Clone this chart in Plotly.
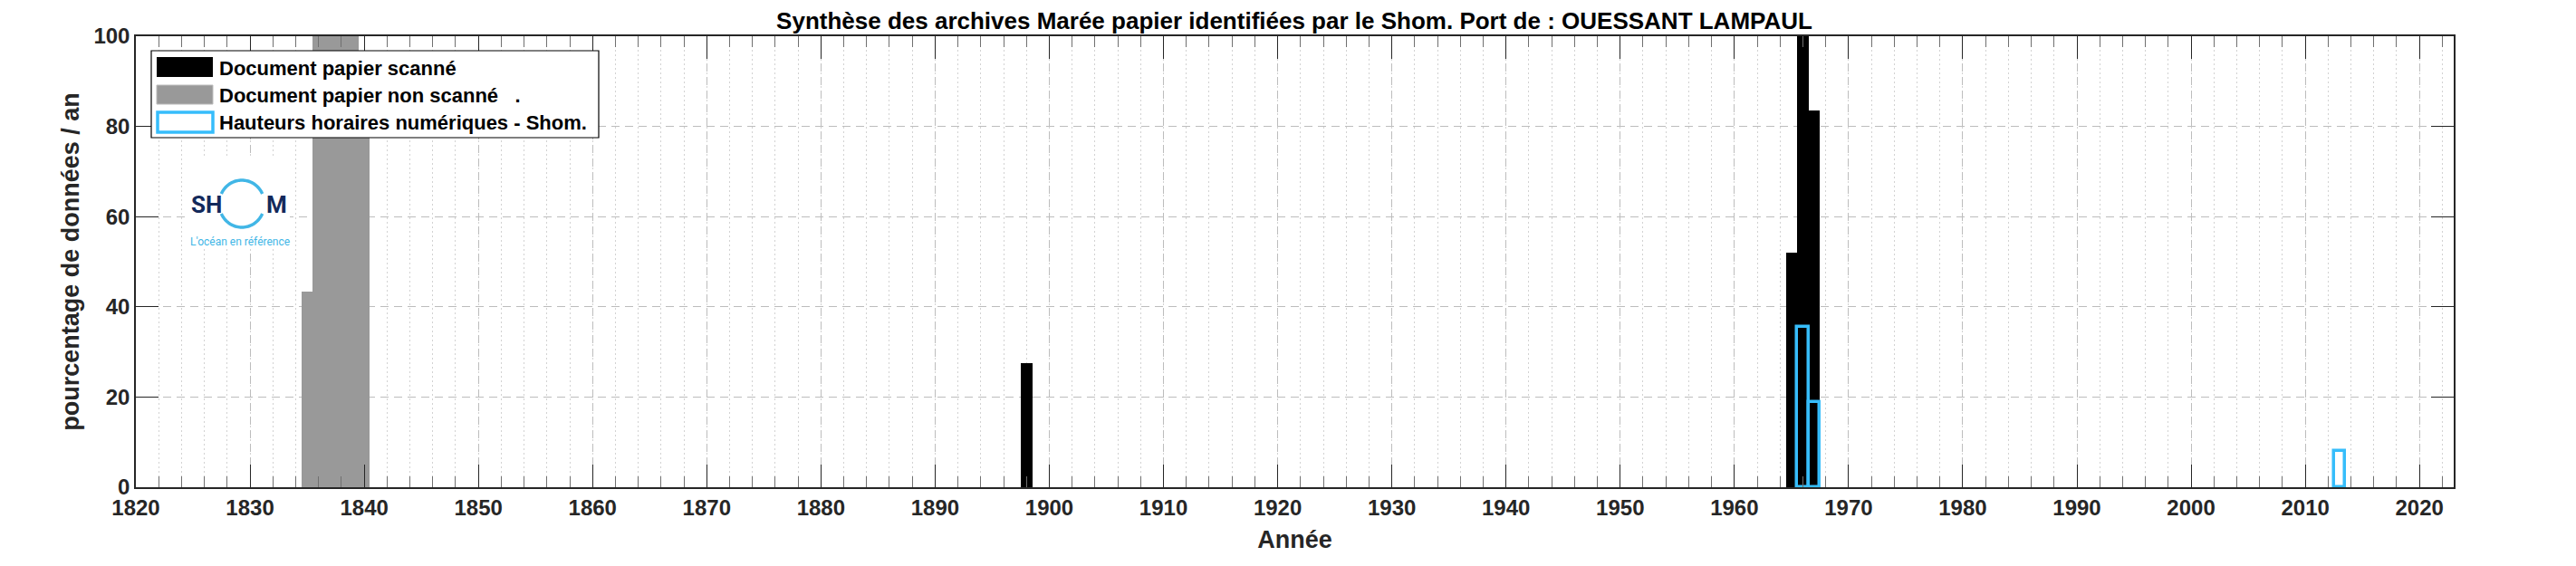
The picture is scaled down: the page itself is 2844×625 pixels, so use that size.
import math
import plotly.graph_objects as go

# ---------------- data ----------------
years_scanned = [1898, 1965, 1966, 1967]
pct_scanned = [27.6, 52.1, 100, 83.5]

years_unscanned = [1835, 1836, 1837, 1838, 1839, 1840]
pct_unscanned = [43.4, 100, 100, 100, 100, 88]

years_numeric = [1966, 1967, 2013]
pct_numeric = [35.5, 18.9, 8]

x_tick_vals = list(range(1820, 2021, 10))
y_tick_vals = [0, 20, 40, 60, 80, 100]

legend_labels = ["Document papier scanné",
                 "Document papier non scanné   .",
                 "Hauteurs horaires numériques - Shom."]

title_text = "Synthèse des archives Marée papier identifiées par le Shom. Port de : OUESSANT LAMPAUL"

# ---------------- geometry helpers ----------------
W, H = 2844, 625
L, R, T, B = 142, 2701, 32, 530


def px(xp):
    return (xp - L) / (R - L)


def py(yp):
    return (B - yp) / (B - T)


BLACK = "#000000"
GREY = "#999999"
BLUE = "#36BDFB"
AXC = "#262626"
FONT = "Liberation Sans, Arial, sans-serif"

fig = go.Figure()
fig.add_trace(go.Bar(x=years_unscanned, y=pct_unscanned, width=1,
                     marker=dict(color=GREY, line=dict(width=0)),
                     name=legend_labels[1], showlegend=False))
fig.add_trace(go.Bar(x=years_scanned, y=pct_scanned, width=1,
                     marker=dict(color=BLACK, line=dict(width=0)),
                     name=legend_labels[0], showlegend=False))
fig.add_trace(go.Bar(x=years_numeric, y=pct_numeric, width=1,
                     marker=dict(color="rgba(0,0,0,0)", line=dict(color=BLUE, width=3.5)),
                     name=legend_labels[2], showlegend=False))

shapes = []
annotations = []

# ---- legend (drawn manually to mimic wide swatches) ----
shapes.append(dict(type="rect", xref="paper", yref="paper", layer="above",
                   x0=px(159), x1=px(653), y0=py(144), y1=py(48),
                   line=dict(color="#000000", width=1.2), fillcolor="white"))
shapes.append(dict(type="rect", xref="paper", yref="paper", layer="above",
                   x0=px(165), x1=px(227), y0=py(77), y1=py(55),
                   line=dict(width=0), fillcolor=BLACK))
shapes.append(dict(type="rect", xref="paper", yref="paper", layer="above",
                   x0=px(165), x1=px(227), y0=py(107), y1=py(86),
                   line=dict(color="#BBBBBB", width=1), fillcolor=GREY))
shapes.append(dict(type="rect", xref="paper", yref="paper", layer="above",
                   x0=px(166), x1=px(227), y0=py(138), y1=py(116),
                   line=dict(color=BLUE, width=3.5), fillcolor="white"))
for lab, yc in zip(legend_labels, [67, 98, 128]):
    annotations.append(dict(text=lab, xref="paper", yref="paper", x=px(232), y=py(yc),
                            xanchor="left", yanchor="middle", showarrow=False,
                            font=dict(family=FONT, size=22, color="#000000", weight="bold")))

# ---- SHOM logo ----
shapes.append(dict(type="rect", xref="paper", yref="paper", layer="above",
                   x0=px(200), x1=px(312), y0=py(267), y1=py(167),
                   line=dict(width=0), fillcolor="white"))
cx, cy, rx, ry = 259, 217, 25, 26
LOGO_BLUE = "#41B6E6"
for a0, a1, sgn in [(25, 155, -1), (25, 155, 1)]:
    pts = []
    for i in range(41):
        a = math.radians(a0 + (a1 - a0) * i / 40)
        xx = cx + rx * math.cos(a)
        yy = cy + sgn * ry * math.sin(a)
        pts.append((px(xx), py(yy)))
    path = "M" + " L".join(f"{p[0]:.6f},{p[1]:.6f}" for p in pts)
    shapes.append(dict(type="path", xref="paper", yref="paper", layer="above",
                       path=path, line=dict(color=LOGO_BLUE, width=3.5)))
annotations.append(dict(text="SH", xref="paper", yref="paper", x=px(220), y=py(218),
                        xanchor="center", yanchor="middle", showarrow=False,
                        font=dict(family="Liberation Sans Narrow, Roboto, sans-serif", size=26,
                                  color="#13295B", weight="bold")))
annotations.append(dict(text="M", xref="paper", yref="paper", x=px(297), y=py(218),
                        xanchor="center", yanchor="middle", showarrow=False,
                        font=dict(family="Liberation Sans Narrow, Roboto, sans-serif", size=26,
                                  color="#13295B", weight="bold")))
annotations.append(dict(text="L'océan en référence", xref="paper", yref="paper", x=px(257), y=py(259),
                        xanchor="center", yanchor="middle", showarrow=False,
                        font=dict(family="Liberation Sans Narrow, Roboto, sans-serif", size=12,
                                  color=LOGO_BLUE)))

tickfont = dict(family=FONT, size=24, color=AXC, weight="bold")
titlefont = dict(family=FONT, size=27, color=AXC, weight="bold")

fig.update_layout(
    width=W, height=H,
    margin=dict(l=L, r=W - R, t=T, b=H - B, pad=0),
    paper_bgcolor="white", plot_bgcolor="white",
    barmode="overlay", bargap=0, showlegend=False,
    title=dict(text=title_text, x=px(1421), xref="paper", xanchor="center",
               y=1 - 15 / H, yref="container", yanchor="middle",
               font=dict(family=FONT, size=26, color="#000000", weight="bold")),
    xaxis=dict(range=[1820, 2023], tickmode="array", tickvals=x_tick_vals,
               ticks="inside", ticklen=25, tickwidth=1, tickcolor=AXC,
               showline=True, linecolor=AXC, linewidth=1.5, mirror="ticks",
               showgrid=True, gridcolor="#BDBDBD", gridwidth=1, griddash="9px,6px",
               zeroline=False, tickfont=tickfont,
               minor=dict(tick0=1820, dtick=2, ticks="inside", ticklen=12, tickwidth=1,
                          tickcolor="#707070", showgrid=True, gridcolor="#D2D2D2",
                          gridwidth=1, griddash="2px,3px"),
               title=dict(text="Année", font=titlefont, standoff=14)),
    yaxis=dict(range=[0, 100], tickmode="array", tickvals=y_tick_vals,
               ticks="inside", ticklen=25, tickwidth=1, tickcolor=AXC,
               showline=True, linecolor=AXC, linewidth=1.5, mirror="ticks",
               showgrid=True, gridcolor="#BDBDBD", gridwidth=1, griddash="9px,6px",
               zeroline=False, tickfont=tickfont,
               title=dict(text="pourcentage de données / an", font=titlefont, standoff=8)),
    shapes=shapes, annotations=annotations,
)

fig.write_html("out.html")
